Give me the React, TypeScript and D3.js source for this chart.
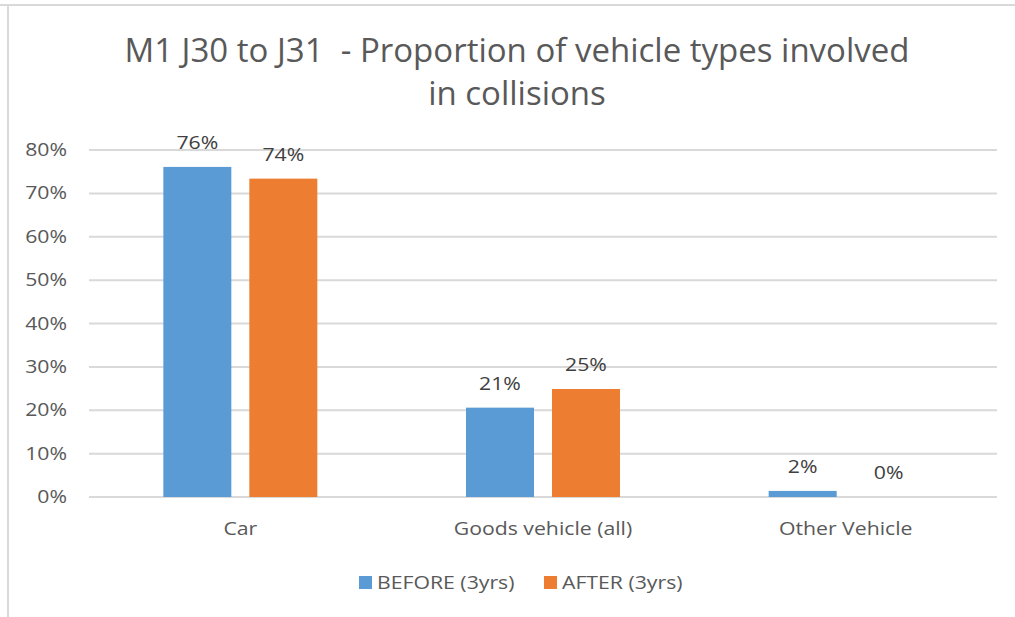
import React from "react";
import * as d3 from "d3";

const categories = ["Car", "Goods vehicle (all)", "Other Vehicle"];
const seriesNames = ["BEFORE (3yrs)", "AFTER (3yrs)"];
const beforeValues = [0.761, 0.206, 0.014];
const afterValues = [0.734, 0.249, 0.0];
const beforeLabels = ["76%", "21%", "2%"];
const afterLabels = ["74%", "25%", "0%"];
const yTicks = [0, 0.1, 0.2, 0.3, 0.4, 0.5, 0.6, 0.7, 0.8];
const colors = ["#5B9BD5", "#ED7D31"];
const titleLines = ["M1 J30 to J31  - Proportion of vehicle types involved", "in collisions"];

const W = 1015;
const H = 617;
const FONT = "'Open Sans', 'Noto Sans', sans-serif";
const SX = 1.18;

function T(props: { x: number; y: number; anchor?: string; fill?: string; size?: number; children: React.ReactNode }) {
  const { x, y, anchor = "middle", fill = "#595959", size = 18, children } = props;
  return (
    <text
      transform={`translate(${x},${y}) scale(${SX},1)`}
      textAnchor={anchor}
      fontFamily={FONT}
      fontSize={size}
      fill={fill}
    >
      {children}
    </text>
  );
}

export default function App() {
  const x0 = d3.scaleBand<string>().domain(categories).range([89, 997]).paddingInner(0).paddingOuter(0);
  const y = d3.scaleLinear().domain([0, 0.8]).range([497, 150]);
  const barW = 68;
  const gap = 18;
  const series = [beforeValues, afterValues];
  const labels = [beforeLabels, afterLabels];
  const fmt = d3.format(".0%");

  return (
    <div style={{ position: "absolute", left: 0, top: 0 }}>
      <svg width={W} height={H} style={{ display: "block", background: "#fff" }}>
        <line x1={0} x2={W} y1={5} y2={5} stroke="#d9d9d9" strokeWidth={2} />
        <line x1={8} x2={8} y1={5} y2={H} stroke="#d9d9d9" strokeWidth={2} />
        {titleLines.map((t, i) => (
          <text
            key={i}
            x={517}
            y={62 + i * 43}
            textAnchor="middle"
            fontFamily={FONT}
            fontSize={33}
            fill="#595959"
            style={{ whiteSpace: "pre" }}
            xmlSpace="preserve"
          >
            {t}
          </text>
        ))}
        {yTicks.map((t) => (
          <g key={t}>
            <line x1={89} x2={997} y1={y(t)} y2={y(t)} stroke="#d9d9d9" strokeWidth={2} />
            <T x={67} y={y(t) + 6} anchor="end">
              {fmt(t)}
            </T>
          </g>
        ))}
        {categories.map((c, ci) => {
          const cx = (x0(c) ?? 0) + x0.bandwidth() / 2;
          return (
            <g key={c}>
              {series.map((vals, si) => {
                const bx = si === 0 ? cx - gap / 2 - barW : cx + gap / 2;
                const top = y(vals[ci]);
                return (
                  <g key={si}>
                    <rect x={bx} y={top} width={barW} height={y(0) - top} fill={colors[si]} />
                    <T x={bx + barW / 2} y={top - 18} fill="#404040">
                      {labels[si][ci]}
                    </T>
                  </g>
                );
              })}
              <T x={cx} y={535}>
                {c}
              </T>
            </g>
          );
        })}
        {seriesNames.map((s, i) => {
          const lx = i === 0 ? 359 : 544;
          return (
            <g key={s}>
              <rect x={lx} y={576} width={13} height={13} fill={colors[i]} />
              <T x={lx + 18} y={589} anchor="start">
                {s}
              </T>
            </g>
          );
        })}
      </svg>
    </div>
  );
}
